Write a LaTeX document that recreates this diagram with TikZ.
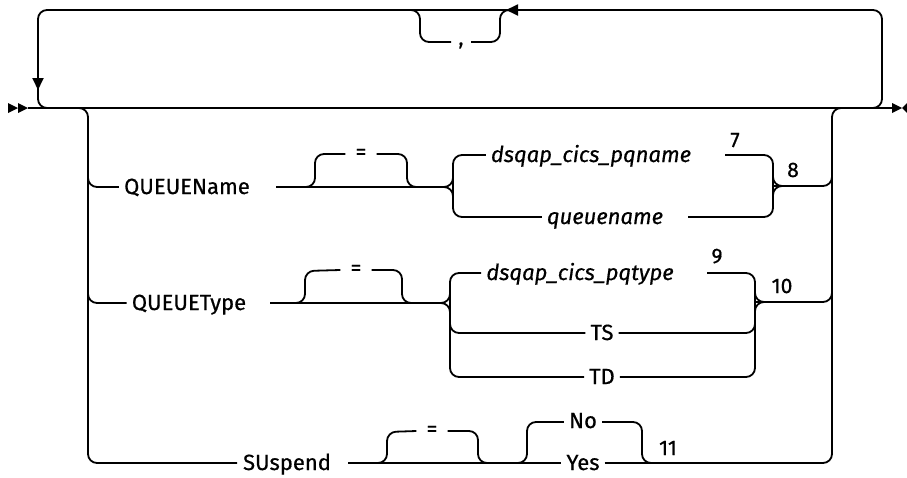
\documentclass[tikz,border=0pt]{standalone}
\usepackage{fontspec}
\setmainfont{Fira Sans}
\newfontfamily\railfont{Fira Sans}[FakeBold=0.6]
\usetikzlibrary{arrows.meta}

\begin{document}
\begin{tikzpicture}[x=1pt, y=-1pt,
    rail/.style={line width=1.8pt, rounded corners=9pt},
    kw/.style={font=\railfont\fontsize{22}{24}\selectfont, inner xsep=5pt, inner ysep=0pt, anchor=base},
    var/.style={kw, font=\railfont\fontsize{22}{24}\selectfont\itshape},
    sym/.style={font=\railfont\fontsize{22}{24}\selectfont, inner xsep=10pt, inner ysep=0pt},
    note/.style={font=\railfont\fontsize{21}{24}\selectfont, inner sep=0pt, anchor=base},
    tip/.style={-{Triangle[length=12pt, width=11pt]}}
  ]
  \useasboundingbox (0,0) rectangle (907,477);

  % start and end marks
  \fill (8,103) -- (18,108) -- (8,113) -- cycle;
  \fill (18,103) -- (28,108) -- (18,113) -- cycle;
  \fill (892,103) -- (902,108) -- (892,113) -- cycle;
  \fill (907,103) -- (902,108) -- (907,113) -- cycle;

  % main line and repeat loop
  \coordinate (in) at (28,108);
  \coordinate (out) at (892,108);
  \draw[line width=1.8pt] (in) -- (out);
  \draw[rail, tip] (860,108) -| (882,10) -- (506,10);
  \draw[rail, tip] (510,10) -| (38,90);
  \draw[rail] (38,86) |- (60,108);

  % separator
  \node[note] (comma) at (461,45) {,};
  \draw[rail] (408,10) -| (420,42) -- (451,42);
  \draw[rail] (471,42) -| (500,10) -- (512,10);

  % group rails
  \draw[rail] (74,108) -| (88,463) -- (237,463);
  \draw[rail] (645,463) -| (832,108) -- (848,108);

  % QUEUEName
  \node[kw] (qname) at (187,194) {QUEUEName};
  \draw[rail] (88,170) |- (qname.west |- 0,187);
  \draw[line width=1.8pt] (276,187) -- (441,187);
  \node[sym] (eq1) at (361,154) {=};
  \draw[rail] (300,187) -| (315,154) -- (eq1.west);
  \draw[rail] (eq1.east) -| (407,187) -- (420,187);
  \draw[rail] (438,187) -| (453,170);
  \draw[rail] (438,187) -| (453,204);
  \node[var] (pqname) at (591,162) {dsqap\_cics\_pqname};
  \node[var] (queuename) at (605,224) {queuename};
  \draw[rail] (pqname.west |- 0,155) -| (453,217) -- (queuename.west |- 0,217);
  \draw[rail] (725,155) -| (773,217) -- (688,217);
  \draw[rail] (786,186) -| (773,175);
  \draw[rail] (786,186) -| (773,197);
  \draw[rail] (773,186) -| (832,170);
  \node[note] (n7) at (735,147) {7};
  \node[note] (n8) at (793,177) {8};

  % QUEUEType
  \node[kw] (qtype) at (189,310) {QUEUEType};
  \draw[rail] (88,285) |- (qtype.west |- 0,303);
  \draw[line width=1.8pt] (270,303) -- (438,303);
  \node[sym] (eq2) at (356,270) {=};
  \draw[rail] (292,303) -| (305,271) -- (eq2.west);
  \draw[rail] (eq2.east) -| (402,303) -- (415,303);
  \draw[rail] (436,303) -| (450,288);
  \draw[rail] (436,303) -| (450,318);
  \node[var] (pqtype) at (580,280) {dsqap\_cics\_pqtype};
  \node[kw] (ts) at (602,340) {TS};
  \node[kw] (td) at (602,384) {TD};
  \draw[rail] (pqtype.west |- 0,273) -| (450,377) -- (td.west |- 0,377);
  \draw[rail] (450,320) |- (ts.west |- 0,333);
  \draw[rail] (707,273) -| (755,377) -- (td.east |- 0,377);
  \draw[rail] (ts.east |- 0,333) -| (755,320);
  \draw[rail] (768,302) -| (755,290);
  \draw[rail] (768,302) -| (755,315);
  \draw[rail] (755,302) -| (832,286);
  \node[note] (n9) at (717,263) {9};
  \node[note] (n10) at (782,293) {10};

  % SUspend
  \node[kw] (susp) at (287,470) {SUspend};
  \node[kw] (no) at (583,428) {No};
  \node[kw] (yes) at (583,470) {Yes};
  \draw[line width=1.8pt] (348,463) -- (yes.west |- 0,463);
  \node[sym] (eq3) at (432,431) {=};
  \draw[rail] (372,463) -| (387,432) -- (eq3.west);
  \draw[rail] (eq3.east) -| (478,463) -- (492,463);
  \draw[rail] (512,463) -| (527,422) -- (no.west |- 0,422);
  \draw[rail] (no.east |- 0,422) -| (642,463) -- (655,463);
  \draw[line width=1.8pt] (yes.east |- 0,463) -- (650,463);
  \node[note] (n11) at (668,455) {11};
\end{tikzpicture}
\end{document}
